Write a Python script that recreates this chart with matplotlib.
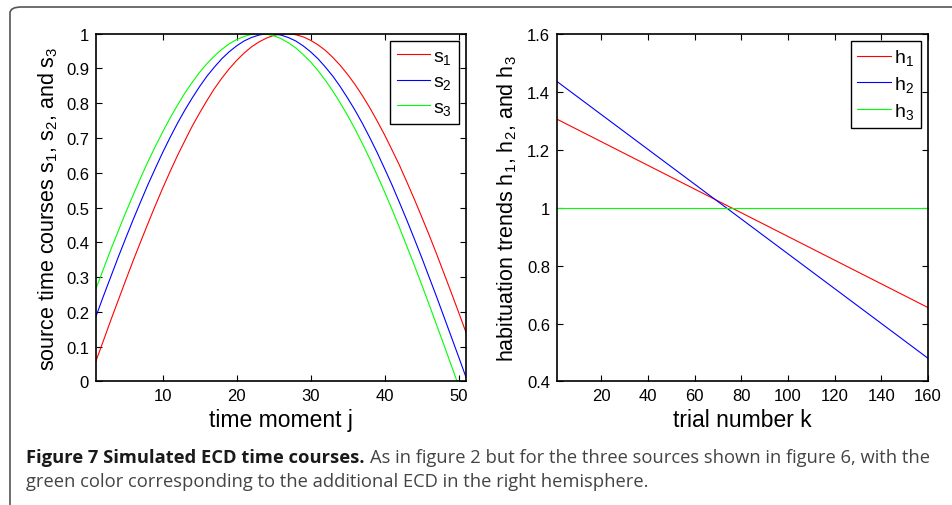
import matplotlib
matplotlib.use("Agg")
import matplotlib.pyplot as plt
from matplotlib.ticker import FuncFormatter
from matplotlib.patches import FancyBboxPatch

# data
j = list(range(1, 52))
s1 = [0.059, 0.117, 0.176, 0.233, 0.290, 0.346, 0.400, 0.453, 0.505, 0.555,
      0.603, 0.649, 0.692, 0.734, 0.772, 0.808, 0.842, 0.872, 0.899, 0.923,
      0.944, 0.962, 0.976, 0.987, 0.995, 0.999, 1.000, 0.997, 0.991, 0.981,
      0.968, 0.952, 0.932, 0.909, 0.883, 0.854, 0.822, 0.787, 0.749, 0.709,
      0.666, 0.622, 0.574, 0.525, 0.474, 0.422, 0.368, 0.312, 0.256, 0.199,
      0.141]
s2 = [0.187, 0.245, 0.301, 0.357, 0.411, 0.464, 0.515, 0.565, 0.612, 0.658,
      0.701, 0.742, 0.780, 0.815, 0.848, 0.878, 0.904, 0.928, 0.948, 0.965,
      0.979, 0.989, 0.996, 1.000, 1.000, 0.996, 0.989, 0.979, 0.965, 0.948,
      0.928, 0.904, 0.878, 0.848, 0.815, 0.780, 0.742, 0.701, 0.658, 0.612,
      0.565, 0.515, 0.464, 0.411, 0.357, 0.301, 0.245, 0.187, 0.129, 0.071,
      0.012]
s3 = [0.267, 0.323, 0.379, 0.432, 0.485, 0.535, 0.584, 0.631, 0.675, 0.717,
      0.757, 0.794, 0.829, 0.860, 0.889, 0.914, 0.936, 0.955, 0.971, 0.983,
      0.992, 0.998, 1.000, 0.999, 0.994, 0.986, 0.974, 0.959, 0.940, 0.919,
      0.894, 0.866, 0.835, 0.801, 0.765, 0.726, 0.684, 0.640, 0.593, 0.545,
      0.495, 0.443, 0.389, 0.335, 0.279, 0.222, 0.164, 0.106, 0.047, -0.012,
      -0.071]

k = [1, 160]
h1 = [1.305, 0.655]
h2 = [1.435, 0.480]
h3 = [1.0, 1.0]

s_labels = [r'$\mathregular{s_1}$', r'$\mathregular{s_2}$', r'$\mathregular{s_3}$']
h_labels = [r'$\mathregular{h_1}$', r'$\mathregular{h_2}$', r'$\mathregular{h_3}$']
colors = ['#ff0000', '#0000ff', '#00ff00']

plt.rcParams['font.family'] = ['Liberation Sans', 'DejaVu Sans']
plt.rcParams['mathtext.fontset'] = 'custom'
plt.rcParams['mathtext.rm'] = 'Liberation Sans'
plt.rcParams['mathtext.it'] = 'Liberation Sans'

fig = plt.figure(figsize=(9.53, 5.06), dpi=100)

# rounded frame around the figure (runs off right/bottom edge)
frame = FancyBboxPatch((10 / 953, -0.1), 1.2, 1.1 - 8 / 506,
                       boxstyle="round,pad=0,rounding_size=0.012",
                       transform=fig.transFigure, fill=False,
                       edgecolor='#555555', linewidth=1.2, clip_on=False)
fig.patches.append(frame)

ax1 = fig.add_axes([0.1007, 0.2441, 0.3883, 0.6873])
ax2 = fig.add_axes([0.5845, 0.2441, 0.3893, 0.6873])

fmt = FuncFormatter(lambda v, p: '%g' % round(v, 3))

for ys, c, lab in zip([s1, s2, s3], colors, s_labels):
    ax1.plot(j, ys, color=c, lw=0.8, label=lab)
ax1.set_xlim(1, 51)
ax1.set_ylim(0, 1)
ax1.set_xticks([10, 20, 30, 40, 50])
ax1.set_yticks([i / 10 for i in range(11)])
ax1.set_xlabel('time moment j', fontsize=16.5, labelpad=3)
ax1.set_ylabel(r'source time courses s$_1$, s$_2$, and s$_3$', fontsize=15.5, labelpad=4)

for ys, c, lab in zip([h1, h2, h3], colors, h_labels):
    ax2.plot(k, ys, color=c, lw=0.8, label=lab)
ax2.set_xlim(1, 160)
ax2.set_ylim(0.4, 1.6)
ax2.set_xticks(range(20, 161, 20))
ax2.set_yticks([0.4, 0.6, 0.8, 1.0, 1.2, 1.4, 1.6])
ax2.set_xlabel('trial number k', fontsize=16.5, labelpad=3)
ax2.set_ylabel(r'habituation trends h$_1$, h$_2$, and h$_3$', fontsize=15.5, labelpad=6)

for ax in (ax1, ax2):
    ax.yaxis.set_major_formatter(fmt)
    ax.tick_params(direction='in', top=True, right=True, length=4,
                   width=0.8, labelsize=12, pad=5)
    for sp in ax.spines.values():
        sp.set_linewidth(1.2)
    leg = ax.legend(loc='upper right', fontsize=14, handlelength=1.7,
                    handletextpad=0.2, labelspacing=0.35, borderaxespad=0.35,
                    borderpad=0.35, fancybox=False, framealpha=1)
    leg.get_frame().set_edgecolor('black')
    leg.get_frame().set_linewidth(1.0)

# caption: bold lead-in followed by regular text
cap_font = ['Open Sans', 'DejaVu Sans']
cap_size = 13.2
t1 = fig.text(26 / 953, 1 - 458 / 506, 'Figure 7 Simulated ECD time courses.',
              fontsize=cap_size, fontweight='bold', family=cap_font,
              color='#1a1a1a', va='center', ha='left')
fig.canvas.draw()
bb = t1.get_window_extent(renderer=fig.canvas.get_renderer())
x_next = (bb.x1 + 5) / fig.bbox.width
fig.text(x_next, 1 - 458 / 506,
         'As in figure 2 but for the three sources shown in figure 6, with the',
         fontsize=cap_size, family=cap_font, color='#444444', va='center', ha='left')
fig.text(26 / 953, 1 - 482 / 506,
         'green color corresponding to the additional ECD in the right hemisphere.',
         fontsize=cap_size, family=cap_font, color='#444444', va='center', ha='left')

fig.savefig('out.png', dpi=100)
